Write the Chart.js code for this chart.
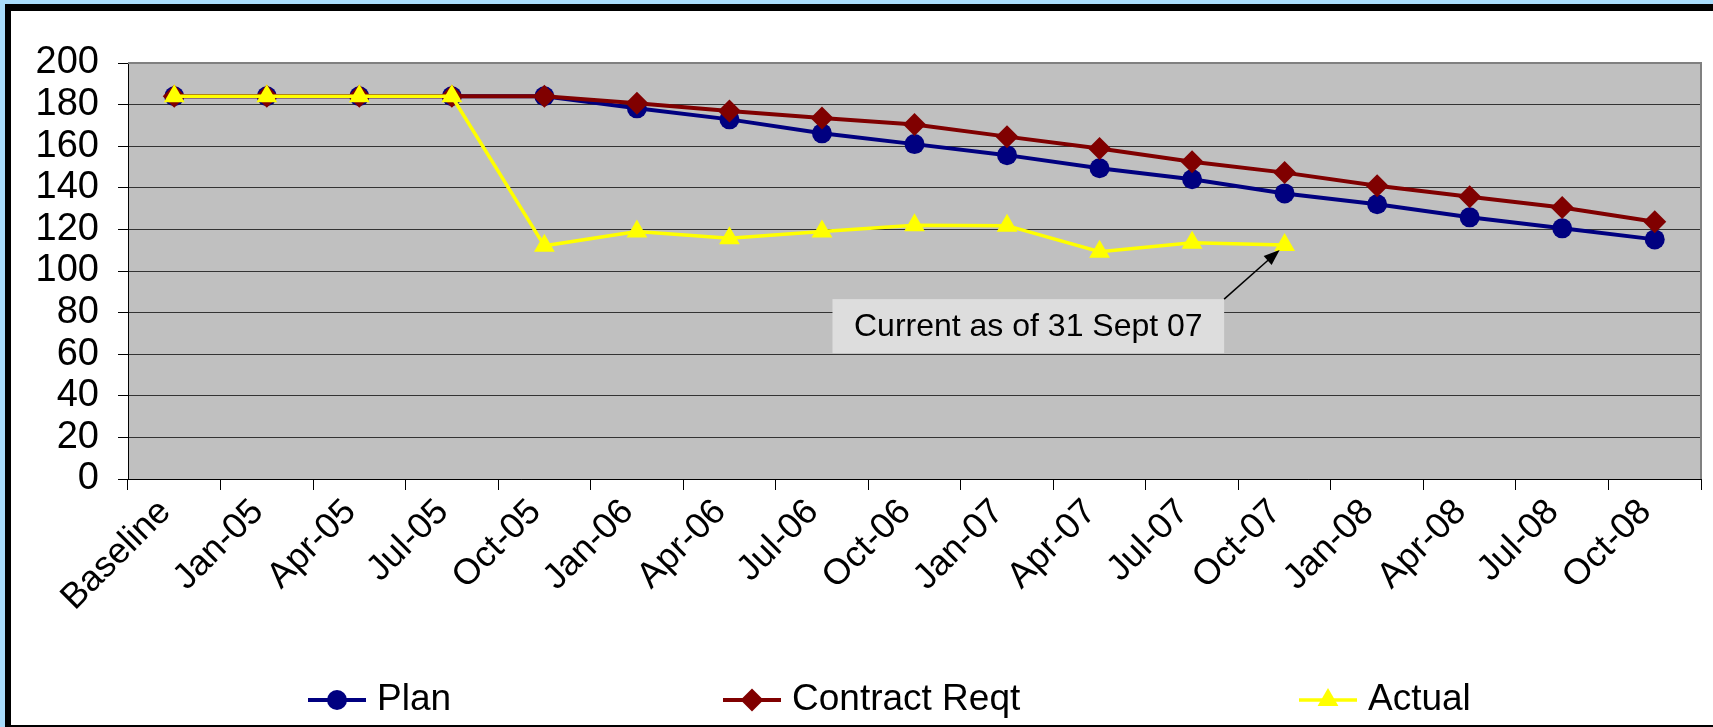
<!DOCTYPE html>
<html><head><meta charset="utf-8">
<script src="https://cdn.jsdelivr.net/npm/chart.js@4.4.1/dist/chart.umd.min.js"></script>
<style>
html,body{margin:0;padding:0;width:1713px;height:727px;overflow:hidden;background:#a9dcfb;}
#frame{position:absolute;left:5px;top:4px;width:1730px;height:723px;box-sizing:border-box;border-top:7px solid #000;border-left:6px solid #000;border-bottom:2px solid #000;background:#fff;}
#wrap{position:absolute;left:0;top:0;width:1713px;height:727px;}
</style></head><body>
<div id="frame"></div>
<div id="wrap"><canvas id="c" width="1713" height="727"></canvas></div>
<script>
const categories = ['Baseline','Jan-05','Apr-05','Jul-05','Oct-05','Jan-06','Apr-06','Jul-06','Oct-06','Jan-07','Apr-07','Jul-07','Oct-07','Jan-08','Apr-08','Jul-08','Oct-08'];
const planValues = [184,184,184,184,184,178.2,172.9,166.2,161,155.7,149.4,144.1,137.3,132.1,125.8,120.5,115.2];
const contractValues = [184,184,184,184,184,180.6,176.9,173.6,170.4,164.6,158.9,152.5,147.3,141,135.7,130.5,123.7];
const actualValues = [184,184,184,184,112.1,119,115.8,119,122,121.8,109.3,113.6,112.5,null,null,null,null];
const yTicks = [0,20,40,60,80,100,120,140,160,180,200];
const seriesNames = ['Plan','Contract Reqt','Actual'];
const annotationText = 'Current as of 31 Sept 07';

const FONT = '"Liberation Sans", Arial, sans-serif';

function drawMarker(ctx, style, x, y, r, color) {
  ctx.save();
  ctx.fillStyle = color;
  ctx.beginPath();
  if (style === 'circle') {
    ctx.arc(x, y, r, 0, Math.PI * 2);
  } else if (style === 'rectRot') {
    ctx.moveTo(x, y - r); ctx.lineTo(x + r, y); ctx.lineTo(x, y + r); ctx.lineTo(x - r, y);
  } else {
    ctx.moveTo(x, y - r); ctx.lineTo(x + r * 0.866, y + r * 0.5); ctx.lineTo(x - r * 0.866, y + r * 0.5);
  }
  ctx.closePath();
  ctx.fill();
  ctx.restore();
}

const plotBg = {
  id: 'plotBg',
  beforeDraw(chart) {
    const {ctx, chartArea: a} = chart;
    ctx.save();
    ctx.fillStyle = '#c0c0c0';
    ctx.fillRect(a.left, a.top, a.right - a.left, a.bottom - a.top);
    ctx.restore();
  },
  beforeDatasetsDraw(chart) {
    const {ctx, chartArea: a} = chart;
    ctx.save();
    ctx.strokeStyle = '#808080';
    ctx.lineWidth = 2;
    ctx.beginPath();
    ctx.moveTo(a.left, a.top);
    ctx.lineTo(a.right, a.top);
    ctx.lineTo(a.right, a.bottom);
    ctx.stroke();
    ctx.restore();
  }
};

const annotation = {
  id: 'annot',
  afterDatasetsDraw(chart) {
    const {ctx, scales: {x, y}} = chart;
    let idx = actualValues.length - 1;
    while (actualValues[idx] === null) idx--;
    const px = x.getPixelForValue(idx), py = y.getPixelForValue(actualValues[idx]);
    ctx.save();
    ctx.font = '32px ' + FONT;
    const tw = ctx.measureText(annotationText).width;
    const bw = tw + 43, bh = 54;
    const cx = x.getPixelForValue(9.23), cy = y.getPixelForValue(73.5);
    const bx = cx - bw / 2, by = cy - bh / 2;
    ctx.fillStyle = '#dddddd';
    ctx.fillRect(bx, by, bw, bh);
    ctx.fillStyle = '#000';
    ctx.textAlign = 'center';
    ctx.textBaseline = 'middle';
    ctx.fillText(annotationText, cx, cy + 1);
    const sx = bx + bw, sy = by;
    const tx = px - 5, ty = py + 5;
    const ang = Math.atan2(ty - sy, tx - sx);
    const hl = 16, hw = 6;
    ctx.strokeStyle = '#000';
    ctx.lineWidth = 1.5;
    ctx.beginPath();
    ctx.moveTo(sx, sy);
    ctx.lineTo(tx - Math.cos(ang) * hl * 0.8, ty - Math.sin(ang) * hl * 0.8);
    ctx.stroke();
    ctx.beginPath();
    ctx.moveTo(tx, ty);
    ctx.lineTo(tx - Math.cos(ang) * hl - Math.sin(ang) * hw, ty - Math.sin(ang) * hl + Math.cos(ang) * hw);
    ctx.lineTo(tx - Math.cos(ang) * hl + Math.sin(ang) * hw, ty - Math.sin(ang) * hl - Math.cos(ang) * hw);
    ctx.closePath();
    ctx.fillStyle = '#000';
    ctx.fill();
    ctx.restore();
  }
};

const legendDraw = {
  id: 'legendDraw',
  afterDraw(chart) {
    const {ctx} = chart;
    const xs = [308, 723, 1299];
    const yc = 700;
    ctx.save();
    chart.data.datasets.forEach((ds, i) => {
      const x0 = xs[i];
      ctx.strokeStyle = ds.borderColor;
      ctx.lineWidth = ds.borderWidth;
      ctx.beginPath();
      ctx.moveTo(x0, yc);
      ctx.lineTo(x0 + 58, yc);
      ctx.stroke();
      drawMarker(ctx, ds.pointStyle, x0 + 29, yc, ds.pointRadius, ds.pointBackgroundColor);
      ctx.fillStyle = '#000';
      ctx.font = '37px ' + FONT;
      ctx.textAlign = 'left';
      ctx.textBaseline = 'middle';
      ctx.fillText(ds.label, x0 + 69, yc);
    });
    ctx.restore();
  }
};

new Chart(document.getElementById('c'), {
  type: 'line',
  data: {
    labels: categories,
    datasets: [
      {label: seriesNames[0], data: planValues, order: 3, borderColor: '#000080', backgroundColor: '#000080', pointBackgroundColor: '#000080', pointBorderColor: '#000080', borderWidth: 4, pointStyle: 'circle', pointRadius: 10, pointBorderWidth: 0, tension: 0},
      {label: seriesNames[1], data: contractValues, order: 2, borderColor: '#800000', backgroundColor: '#800000', pointBackgroundColor: '#800000', pointBorderColor: '#800000', borderWidth: 4, pointStyle: 'rectRot', pointRadius: 11.5, pointBorderWidth: 0, tension: 0},
      {label: seriesNames[2], data: actualValues, order: 1, borderColor: '#ffff00', backgroundColor: '#ffff00', pointBackgroundColor: '#ffff00', pointBorderColor: '#ffff00', borderWidth: 3.5, pointStyle: 'triangle', pointRadius: 12, pointBorderWidth: 0, tension: 0, spanGaps: false}
    ]
  },
  options: {
    responsive: false,
    animation: false,
    devicePixelRatio: 1,
    layout: {padding: {left: 0, top: 63, right: 10, bottom: 0}},
    plugins: {legend: {display: false}, tooltip: {enabled: false}},
    scales: {
      x: {
        type: 'category',
        offset: true,
        grid: {display: true, drawOnChartArea: false, offset: true, tickLength: 11, tickColor: '#000', color: '#000'},
        border: {display: true, color: '#000', width: 1},
        ticks: {autoSkip: false, minRotation: 45, maxRotation: 45, padding: 1, labelOffset: -9, color: '#000', font: {family: FONT, size: 36}},
        afterFit(s) { s.height = 248; }
      },
      y: {
        min: 0, max: 200,
        grid: {color: '#333', lineWidth: 1, tickLength: 10, tickColor: '#000'},
        border: {display: true, color: '#000', width: 1},
        ticks: {stepSize: 20, autoSkip: false, padding: 19, color: '#000', font: {family: FONT, size: 38}},
        afterBuildTicks(s) { s.ticks = yTicks.map(v => ({value: v})); },
        afterFit(s) { s.width = 128; }
      }
    }
  },
  plugins: [plotBg, annotation, legendDraw]
});
</script>
</body></html>
